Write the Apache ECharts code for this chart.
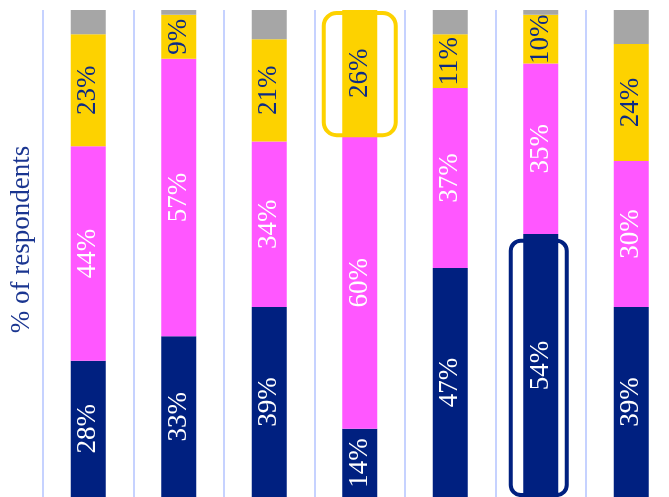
<!DOCTYPE html>
<html>
<head>
<meta charset="utf-8">
<script src="https://cdn.jsdelivr.net/npm/echarts@6/dist/echarts.min.js"></script>
<style>
html,body{margin:0;padding:0;background:#fff;}
#chart{width:669px;height:497px;}
</style>
</head>
<body>
<div id="chart"></div>
<script>
// ---- Data ----
var categories = ['Group 1', 'Group 2', 'Group 3', 'Group 4', 'Group 5', 'Group 6', 'Group 7'];
var seriesNavy    = [28, 33, 39, 14, 47, 54, 39];
var seriesMagenta = [44, 57, 34, 60, 37, 35, 30];
var seriesGold    = [23,  9, 21, 26, 11, 10, 24];
var seriesGray    = [ 5,  1,  6,  0,  5,  1,  7];
var yAxisTitle = '% of respondents';
// highlighted segments: [category index, from value, to value]
var highlightGold = [[3, 74.3, 99.4]];
var highlightNavy = [[5, 0.4, 52.6]];

// ---- Styles ----
var C_NAVY = '#002080';
var C_MAGENTA = '#ff57ff';
var C_GOLD = '#fdd200';
var C_GRAY = '#a6a6a6';
var SERIF = '"Liberation Serif", "DejaVu Serif", serif';

var chart = echarts.init(document.getElementById('chart'));

function barLabel(color) {
  return {
    show: true,
    position: 'inside',
    rotate: 90,
    color: color,
    fontFamily: SERIF,
    fontSize: 27,
    formatter: function (p) { return p.value + '%'; }
  };
}

function outlineSeries(data, color, width, radius, dx) {
  return {
    type: 'custom',
    data: data,
    encode: { x: 0, y: [1, 2] },
    z: 10,
    silent: true,
    renderItem: function (params, api) {
      var top = api.coord([api.value(0), api.value(2)]);
      var bot = api.coord([api.value(0), api.value(1)]);
      return {
        type: 'rect',
        shape: { x: top[0] - width / 2 + dx, y: top[1], width: width, height: bot[1] - top[1], r: radius },
        style: { fill: 'none', stroke: color, lineWidth: 4 }
      };
    }
  };
}

var option = {
  backgroundColor: '#ffffff',
  animation: false,
  grid: { left: 43, right: -7.5, top: 10, bottom: 0, containLabel: false, outerBoundsMode: 'none' },
  xAxis: {
    type: 'category',
    data: categories,
    axisLine: { show: false },
    axisTick: { show: false },
    axisLabel: { show: false },
    splitLine: { show: true, lineStyle: { color: '#c6d2ff', width: 2 } }
  },
  yAxis: {
    type: 'value',
    min: 0,
    max: 100,
    axisLine: { show: false },
    axisTick: { show: false },
    axisLabel: { show: false },
    splitLine: { show: false },
    name: yAxisTitle,
    nameLocation: 'middle',
    nameRotate: 90,
    nameGap: 8,
    nameTextStyle: { color: '#1a3590', fontFamily: SERIF, fontSize: 27, padding: [0, 0, 0, 28] }
  },
  series: [
    { type: 'bar', stack: 's', barWidth: 35, data: seriesNavy, itemStyle: { color: C_NAVY }, label: barLabel('#ffffff') },
    { type: 'bar', stack: 's', barWidth: 35, data: seriesMagenta, itemStyle: { color: C_MAGENTA }, label: barLabel('#ffffff') },
    { type: 'bar', stack: 's', barWidth: 35, data: seriesGold, itemStyle: { color: C_GOLD }, label: barLabel('#0c2a85') },
    { type: 'bar', stack: 's', barWidth: 35, data: seriesGray, itemStyle: { color: C_GRAY } },
    outlineSeries(highlightGold, C_GOLD, 72, 13, 0),
    outlineSeries(highlightNavy, C_NAVY, 56, 10, -2)
  ]
};
chart.setOption(option);
</script>
</body>
</html>
